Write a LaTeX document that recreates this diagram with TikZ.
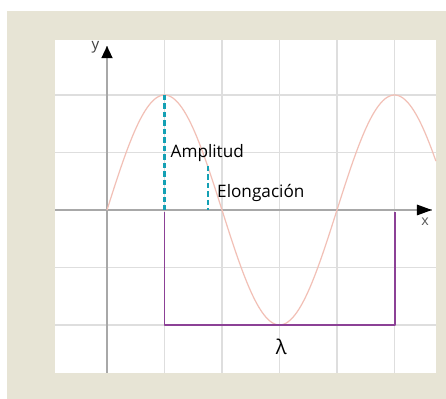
\documentclass[tikz,border=0pt]{standalone}
\usepackage{fontspec}
\setmainfont{Open Sans}
\definecolor{fondo}{RGB}{231,228,213}
\definecolor{rejilla}{RGB}{222,222,222}
\definecolor{eje}{RGB}{168,168,168}
\definecolor{onda}{RGB}{242,192,182}
\definecolor{turquesa}{RGB}{20,160,180}
\definecolor{morado}{RGB}{140,65,150}

\begin{document}
\begin{tikzpicture}[line join=round, font=\fontsize{8.5}{10}\selectfont]
      \def\A{2.0}   % amplitud
      \def\xmin{-0.904}
      \def\xmax{5.722}
      \def\ymin{-2.835}
      \def\ymax{2.957}

      \useasboundingbox (-1.861,-3.287) rectangle (5.896,3.652);
      % fondo y zona blanca
      \fill[fondo] (-1.739,-3.287) rectangle (5.896,3.461);
      \fill[white] (\xmin,\ymin) rectangle (\xmax,\ymax);

      % rejilla
      \foreach \x in {1,...,5}
        \draw[rejilla, line width=0.6pt] (\x,\ymin) -- (\x,\ymax);
      \foreach \y in {-2,-1,1,2}
        \draw[rejilla, line width=0.6pt] (\xmin,\y) -- (\xmax,\y);

      % ejes
      \coordinate (O) at (0,0);
      \coordinate (Y) at (0,2.85);
      \coordinate (X) at (5.65,0);
      \draw[eje, line width=0.6pt] (0,\ymin) -- (Y);
      \draw[eje, line width=0.6pt] (\xmin,0) -- (X);
      % puntas de flecha
      \fill[black] (Y) -- ++(-0.1,-0.21) -- ++(0.2,0) -- cycle;
      \fill[black] (X) -- ++(-0.26,0.095) -- ++(0,-0.19) -- cycle;
      \node[text=black!75, font=\fontsize{7.5}{8}\selectfont] (ly) at (-0.2,2.83) {y};
      \node[text=black!65, font=\fontsize{7}{8}\selectfont] (lx) at (5.53,-0.2) {x};

      % onda
      \draw[onda, line width=0.6pt, domain=0:\xmax, samples=150, smooth]
        plot (\x, {\A*sin(\x*90)});

      % amplitud y elongacion
      \coordinate (P) at (1,\A);
      \coordinate (Pb) at (1,0);
      \coordinate (E) at (1.75,{\A*sin(157.5)});
      \coordinate (Eb) at (1.75,0);
      \draw[turquesa, line width=1.1pt, dash pattern=on 2.6pt off 1.6pt] (P) -- (Pb);
      \draw[turquesa, line width=1.1pt, dash pattern=on 2.6pt off 1.6pt] (E) -- (Eb);
      \node[anchor=base west, inner sep=0pt] (amp) at (1.10,0.92) {Amplitud};
      \node[anchor=base west, inner sep=0pt] (elo) at (1.91,0.21) {Elongación};

      % longitud de onda
      \coordinate (La) at (1,-0.04);
      \coordinate (Lb) at (5.01,-0.04);
      \draw[morado, line width=0.8pt] (La) -- ++(0,-1.96) -| (Lb);
      \node (lam) at (3.03,-2.38) {\fontsize{10}{12}\selectfont λ};

\end{tikzpicture}
\end{document}
